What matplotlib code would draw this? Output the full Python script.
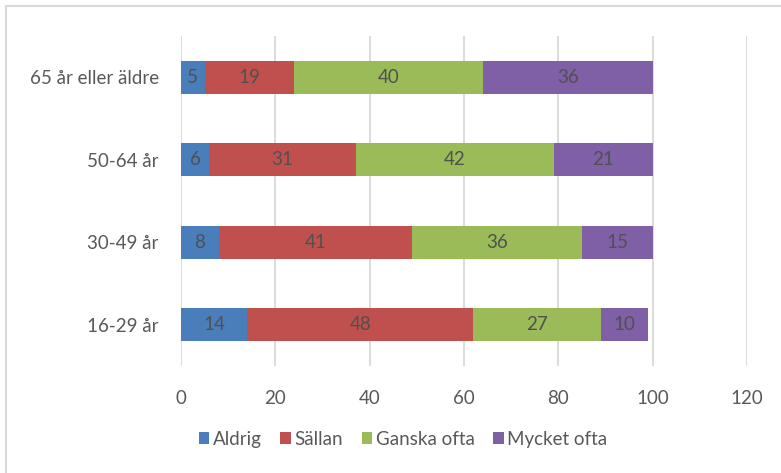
import matplotlib.pyplot as plt
from matplotlib.lines import Line2D

categories = ["16-29 år", "30-49 år", "50-64 år", "65 år eller äldre"]
series_names = ["Aldrig", "Sällan", "Ganska ofta", "Mycket ofta"]
aldrig = [14, 8, 6, 5]
sallan = [48, 41, 31, 19]
ganska_ofta = [27, 36, 42, 40]
mycket_ofta = [10, 15, 21, 36]
colors = ["#4A7EBB", "#C0504D", "#9BBB59", "#7F5FA6"]
xticks = [0, 20, 40, 60, 80, 100, 120]

plt.rcParams['font.family'] = ['Lato', 'DejaVu Sans']
text_color = "#595959"
fs = 13.5

fig = plt.figure(figsize=(7.81, 4.73), dpi=100)
ax = fig.add_axes([181 / 781, 1 - 366 / 473, (747 - 181) / 781, 330 / 473])

y = list(range(len(categories)))
left = [0] * len(categories)
for name, vals, col in zip(series_names, [aldrig, sallan, ganska_ofta, mycket_ofta], colors):
    bars = ax.barh(y, vals, left=left, height=0.4, color=col, label=name, zorder=3)
    for b, v in zip(bars, vals):
        ax.text(b.get_x() + b.get_width() / 2, b.get_y() + b.get_height() / 2, str(v),
                ha='center', va='center', color="#505050", fontsize=fs, zorder=4)
    left = [l + v for l, v in zip(left, vals)]

ax.set_xlim(0, 120)
ax.set_ylim(-0.5, 3.5)
ax.set_xticks(xticks)
ax.set_yticks(y)
ax.set_yticklabels(categories)
ax.tick_params(axis='both', length=0, colors=text_color, labelsize=fs)
ax.tick_params(axis='x', pad=17)
ax.tick_params(axis='y', pad=16)
ax.grid(axis='x', color="#D9D9D9", linewidth=1.3, zorder=0)
for s in ax.spines.values():
    s.set_visible(False)

handles, labels = ax.get_legend_handles_labels()
fig.legend(handles, labels, loc='center', bbox_to_anchor=(403 / 781, 1 - 439 / 473), ncol=4,
           frameon=False, fontsize=fs, labelcolor=text_color, handlelength=0.55,
           handleheight=0.55, handletextpad=0.2, columnspacing=1.0)

# light frame lines along the left and top edge
fig.add_artist(Line2D([6 / 781, 6 / 781], [0, 1 - 6 / 473], transform=fig.transFigure,
                      color="#D9D9D9", linewidth=1.5))
fig.add_artist(Line2D([6 / 781, 1], [1 - 6 / 473, 1 - 6 / 473], transform=fig.transFigure,
                      color="#D9D9D9", linewidth=1.5))

fig.savefig("out.png", dpi=100)
